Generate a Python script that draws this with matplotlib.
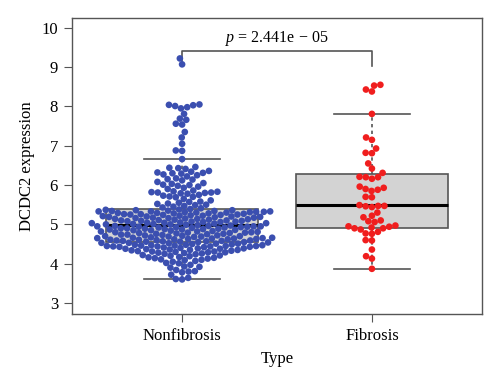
import numpy as np
import matplotlib
matplotlib.use("Agg")
import matplotlib.pyplot as plt

plt.rcParams['font.family'] = ['Liberation Serif', 'DejaVu Serif']
plt.rcParams['mathtext.fontset'] = 'custom'
plt.rcParams['mathtext.it'] = 'Liberation Serif:italic'
plt.rcParams['mathtext.rm'] = 'Liberation Serif'

# expression values
nonfib_low = [3.60, 3.61, 3.64, 3.72, 3.78, 3.80, 3.81, 3.84, 3.90, 3.92, 3.93, 3.97,
              4.01, 4.02, 4.05, 4.07, 4.09, 4.10, 4.11, 4.13, 4.14, 4.15, 4.16, 4.17, 4.19,
              4.20, 4.21, 4.22, 4.24, 4.25, 4.26, 4.27, 4.28, 4.29, 4.29,
              4.30, 4.31, 4.31, 4.32, 4.33, 4.34, 4.35, 4.35, 4.36, 4.37, 4.38, 4.38, 4.39, 4.39,
              4.40, 4.41, 4.42, 4.43, 4.43, 4.44, 4.44, 4.44, 4.45, 4.45, 4.45, 4.46, 4.46,
              4.47, 4.47, 4.48, 4.48, 4.49]
nonfib_mid = [4.50, 4.51, 4.51, 4.52, 4.53, 4.53, 4.54, 4.55, 4.55, 4.56, 4.56, 4.57, 4.57, 4.58, 4.58, 4.59, 4.59,
              4.60, 4.61, 4.61, 4.62, 4.62, 4.63, 4.63, 4.64, 4.64, 4.65, 4.65, 4.66, 4.66, 4.67, 4.68, 4.69, 4.69,
              4.70, 4.70, 4.71, 4.72, 4.72, 4.73, 4.74, 4.74, 4.75, 4.76, 4.76, 4.77, 4.78, 4.78, 4.79, 4.79,
              4.80, 4.80, 4.81, 4.82, 4.82, 4.83, 4.84, 4.85, 4.85, 4.86, 4.87, 4.87, 4.88, 4.88, 4.89, 4.89,
              4.90, 4.90, 4.91, 4.92, 4.92, 4.93, 4.93, 4.94, 4.94, 4.95, 4.95, 4.95, 4.96, 4.96, 4.97, 4.98, 4.99,
              5.00, 5.00, 5.01, 5.01, 5.02, 5.03, 5.03, 5.04, 5.04, 5.05, 5.06, 5.06, 5.07, 5.07, 5.08, 5.09, 5.09,
              5.10, 5.10, 5.11, 5.12, 5.12, 5.13, 5.14, 5.14, 5.15, 5.16, 5.16, 5.17, 5.17, 5.18, 5.19, 5.19,
              5.20, 5.20, 5.21, 5.22, 5.22, 5.23, 5.24, 5.24, 5.25, 5.25, 5.26, 5.26, 5.27, 5.28, 5.28, 5.29, 5.29,
              5.30, 5.30, 5.31, 5.31, 5.32, 5.32, 5.33, 5.33, 5.33, 5.34, 5.34, 5.35, 5.36, 5.36, 5.37, 5.38, 5.39]
nonfib_high = [5.41, 5.43, 5.45, 5.47, 5.49, 5.50, 5.52, 5.53, 5.55, 5.57, 5.58,
               5.61, 5.65, 5.69, 5.70, 5.71, 5.73, 5.75, 5.78,
               5.79, 5.80, 5.81, 5.81, 5.82, 5.83, 5.84, 5.86, 5.90, 5.93, 5.96, 5.98,
               6.00, 6.01, 6.03, 6.05, 6.08, 6.12, 6.14, 6.15, 6.17, 6.22, 6.25, 6.27, 6.29,
               6.30, 6.31, 6.32, 6.34, 6.36, 6.41, 6.43, 6.44, 6.46,
               6.66, 6.87, 6.88, 7.05, 7.21, 7.35, 7.54, 7.56, 7.66, 7.69, 7.81,
               7.95, 7.98, 8.01, 8.03, 8.04, 8.05, 9.07, 9.22]
fibrosis = [8.55, 8.53, 8.43, 8.38, 7.81, 7.21, 7.15, 6.93, 6.82, 6.81, 6.55, 6.42,
            6.31, 6.21, 6.20, 6.20, 6.16, 5.96, 5.93, 5.90, 5.88, 5.85, 5.70, 5.69,
            5.49, 5.47, 5.47, 5.46, 5.44, 5.30, 5.22, 5.18, 5.10, 5.08, 5.06,
            4.97, 4.95, 4.94, 4.92, 4.90, 4.90, 4.87, 4.81, 4.77, 4.76,
            4.60, 4.59, 4.36, 4.19, 4.13, 3.87]

groups = ['Nonfibrosis', 'Fibrosis']
colors = ['#3b4fb0', '#f01e1e']
# box statistics as drawn in the figure
box_low = [3.60, 3.87]
box_q1 = [4.54, 4.92]
box_med = [4.98, 5.48]
box_q3 = [5.39, 6.27]
box_high = [6.67, 7.80]
p_text = '2.441e \u2212 05'

nonfib = nonfib_low + nonfib_mid + nonfib_high
data = [np.array(nonfib), np.array(fibrosis)]

fig = plt.figure(figsize=(5, 3.87), dpi=100)
ax = fig.add_axes([0.144, 0.1886, 0.82, 0.765])
ax.set_xlim(0.42, 2.58)
ax.set_ylim(2.72, 10.25)

# pixel scale of the axes, used for the swarm layout
xpx = 410 / 2.16
ypx = 296 / 7.53
d = 6.3


def swarm(vals):
    y = vals * ypx
    order = np.argsort(y, kind='stable')
    xs = np.zeros(len(y))
    placed = []
    for i in order:
        near = [j for j in placed if abs(y[i] - y[j]) < d]
        cands = [0.0]
        for j in near:
            dx = np.sqrt(d * d - (y[i] - y[j]) ** 2)
            cands += [xs[j] - dx, xs[j] + dx]
        cands.sort(key=lambda c: (abs(c), c))
        for c in cands:
            if all((c - xs[j]) ** 2 + (y[i] - y[j]) ** 2 >= d * d - 1e-6 for j in near):
                xs[i] = c
                break
        placed.append(i)
    return xs / xpx


gray = '#555555'
stats = [dict(whislo=box_low[k], q1=box_q1[k], med=box_med[k], q3=box_q3[k],
              whishi=box_high[k], fliers=[]) for k in range(2)]
ax.bxp(stats, positions=[1, 2], widths=0.8, patch_artist=True, showfliers=False,
       capwidths=0.4,
       boxprops=dict(facecolor='#d3d3d3', edgecolor=gray, linewidth=1.2),
       whiskerprops=dict(color=gray, linewidth=1.2, linestyle=(0, (2, 2))),
       capprops=dict(color=gray, linewidth=1.2),
       medianprops=dict(color='black', linewidth=2.2), zorder=1)

for k, vals in enumerate(data):
    ax.scatter(k + 1 + swarm(vals), vals, s=23, color=colors[k], edgecolors='none', zorder=3)

# significance bracket
ax.plot([1, 1, 2, 2], [9.12, 9.4, 9.4, 9.02], color=gray, lw=1.2)
ax.text(1.5, 9.74, r'$p$ = ' + p_text, ha='center', va='center', fontsize=11.5)

ax.set_xticks([1, 2])
ax.set_xticklabels(groups)
ax.set_yticks(range(3, 11))
ax.tick_params(axis='both', direction='out', length=6, color=gray, labelsize=12, pad=4)
ax.set_xlabel('Type', fontsize=12, labelpad=5)
ax.set_ylabel('DCDC2 expression', fontsize=12, labelpad=5)
for s in ax.spines.values():
    s.set_color(gray)
    s.set_linewidth(1.0)

fig.savefig('out.png', dpi=100)
